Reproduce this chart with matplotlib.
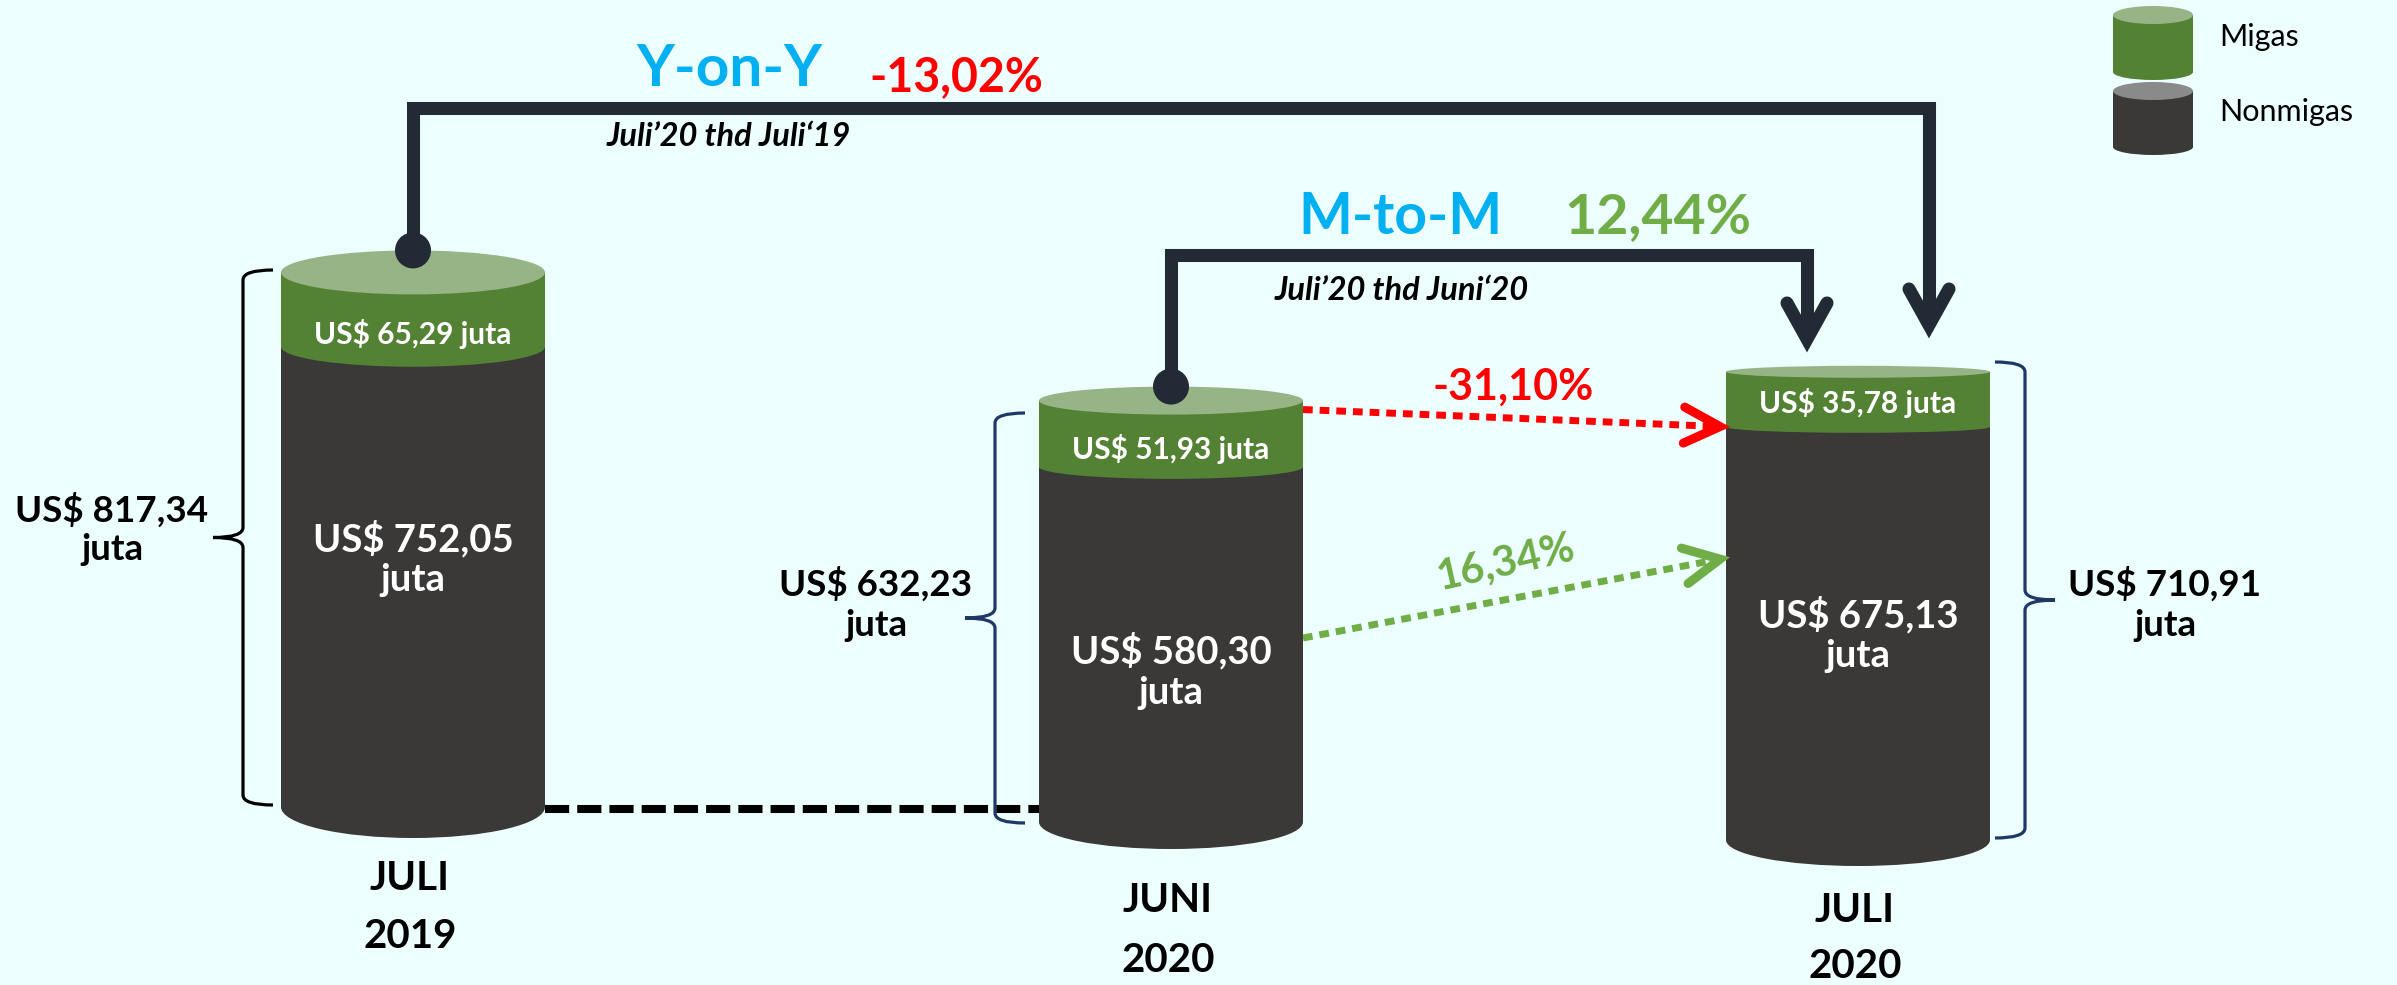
import numpy as np
import matplotlib.pyplot as plt
from matplotlib.patches import Ellipse, Rectangle, Circle, PathPatch
from matplotlib.path import Path

plt.rcParams['font.family'] = ['Lato', 'DejaVu Sans']

# ---------------------------------------------------------------------------
# data (US$ juta)
# ---------------------------------------------------------------------------
months = ['JULI', 'JUNI', 'JULI']
years = ['2019', '2020', '2020']
migas = [65.29, 51.93, 35.78]
nonmigas = [752.05, 580.30, 675.13]
totals = [817.34, 632.23, 710.91]
yoy_pct = -13.02
mtm_pct = 12.44
migas_pct = -31.10
nonmigas_pct = 16.34

# ---------------------------------------------------------------------------
# layout (pixel canvas)
# ---------------------------------------------------------------------------
W, H = 2397, 985
centers = [413, 1171, 1858]
bases = [807, 822, 840]
half_w = 132
ry_top = [22, 14, 6]
ry_mid = [20, 12, 6]
ry_bot = [31, 27, 26]
px_per_juta = 0.612      # nonmigas scale
migas_k = 9.2            # migas band drawn on sqrt scale so it stays readable

BG = '#ecfefe'
DARK = '#3a3937'
GREEN = '#548235'
GREEN_TOP = '#97b487'
GRAY_TOP = '#8a8a8a'
LINE = '#222a35'
NAVY = '#1f3864'
CYAN = '#00b0f0'
RED = '#ff0000'
LGREEN = '#70ad47'


def fmt(v):
    return f'{v:.2f}'.replace('.', ',')


def segment(ax, cx, rx, y_bottom, y_top, ry_b, color, z=3):
    ax.add_patch(Rectangle((cx - rx, y_top), 2 * rx, y_bottom - y_top,
                           facecolor=color, lw=0, zorder=z))
    ax.add_patch(Ellipse((cx, y_bottom), 2 * rx, 2 * ry_b,
                         facecolor=color, lw=0, zorder=z))


def brace(ax, xv, y0, y1, s, color, hook=30, tip=30, r=10):
    # s = -1 : tip points left, s = +1 : tip points right
    xh = xv - s * hook
    xt = xv + s * tip
    ym = (y0 + y1) / 2
    verts = [(xh, y0), (xv, y0), (xv, y0 + r),
             (xv, ym - r), (xv, ym), (xt, ym),
             (xv, ym), (xv, ym + r),
             (xv, y1 - r), (xv, y1), (xh, y1)]
    codes = [Path.MOVETO, Path.CURVE3, Path.CURVE3,
             Path.LINETO, Path.CURVE3, Path.CURVE3,
             Path.CURVE3, Path.CURVE3,
             Path.LINETO, Path.CURVE3, Path.CURVE3]
    ax.add_patch(PathPatch(Path(verts, codes), facecolor='none',
                           edgecolor=color, lw=2.3, zorder=4))


def chevron(ax, tip, direction, back, spread, color, lw, z=6):
    d = np.array(direction, float)
    d /= np.hypot(*d)
    n = np.array([-d[1], d[0]])
    t = np.array(tip, float)
    a = t - back * d + spread * n
    b = t - back * d - spread * n
    ax.plot([a[0], t[0], b[0]], [a[1], t[1], b[1]], color=color, lw=lw,
            solid_joinstyle='miter', solid_capstyle='round', zorder=z)


fig = plt.figure(figsize=(W / 100, H / 100), dpi=100)
fig.patch.set_facecolor(BG)
ax = fig.add_axes([0, 0, 1, 1])
ax.set_xlim(0, W)
ax.set_ylim(H, 0)
ax.axis('off')

# ---------------------------------------------------------------------------
# cylinders
# ---------------------------------------------------------------------------
tops = []
mids = []
for i, cx in enumerate(centers):
    y_mid = bases[i] - nonmigas[i] * px_per_juta
    y_top = y_mid - migas_k * np.sqrt(migas[i])
    mids.append(y_mid)
    tops.append(y_top)
    segment(ax, cx, half_w, bases[i], y_mid, ry_bot[i], DARK)
    segment(ax, cx, half_w, y_mid, y_top, ry_mid[i], GREEN)
    ax.add_patch(Ellipse((cx, y_top), 2 * half_w, 2 * ry_top[i],
                         facecolor=GREEN_TOP, lw=0, zorder=3))

# labels inside the cylinders
migas_label_y = [334, 449, 403]
nonmigas_label_y = [(539, 580), (651, 693), (615, 656)]
for i, cx in enumerate(centers):
    ax.text(cx, migas_label_y[i], f'US$ {fmt(migas[i])} juta', color='white',
            fontsize=21.5, fontweight='bold', ha='center', va='center', zorder=7)
    y1, y2 = nonmigas_label_y[i]
    ax.text(cx, y1, f'US$ {fmt(nonmigas[i])}', color='white', fontsize=27.5,
            fontweight='bold', ha='center', va='center', zorder=7)
    ax.text(cx, y2, 'juta', color='white', fontsize=27.5,
            fontweight='bold', ha='center', va='center', zorder=7)

# period labels below
period_y = [(878, 937), (900, 961), (911, 967)]
for i, cx in enumerate(centers):
    ax.text(cx - 3, period_y[i][0], months[i], fontsize=29, fontweight='bold',
            ha='center', va='center', color='black')
    ax.text(cx - 3, period_y[i][1], years[i], fontsize=29, fontweight='bold',
            ha='center', va='center', color='black')

# ---------------------------------------------------------------------------
# braces + totals
# ---------------------------------------------------------------------------
brace_x = [243, 995, 2025]
brace_side = [-1, -1, 1]
brace_top = [270, 413, 362]
brace_bot = [805, 823, 838]
brace_col = ['black', NAVY, NAVY]
total_x = [112, 876, 2165]
total_y = [(510, 549), (584, 626), (584, 625)]
for i in range(3):
    brace(ax, brace_x[i], brace_top[i], brace_bot[i], brace_side[i], brace_col[i])
    ax.text(total_x[i], total_y[i][0], f'US$ {fmt(totals[i])}', fontsize=26.5,
            fontweight='bold', ha='center', va='center', color='black')
    ax.text(total_x[i], total_y[i][1], 'juta', fontsize=26.5,
            fontweight='bold', ha='center', va='center', color='black')

# dashed baseline between 2019 and June 2020
ax.plot([centers[0] + half_w, centers[1] - half_w], [809, 809], color='black',
        lw=5.8, dashes=(3, 1), dash_capstyle='butt', zorder=2)

# ---------------------------------------------------------------------------
# Y-on-Y and M-to-M connectors
# ---------------------------------------------------------------------------
def connector(x0, y0, y_bar, x1, y_tip):
    ax.plot([x0, x0, x1, x1], [y0, y_bar, y_bar, y_tip - 14], color=LINE,
            lw=9.4, solid_joinstyle='miter', solid_capstyle='butt', zorder=5)
    chevron(ax, (x1, y_tip - 13), (0, 1), 36, 20, LINE, 9.4)
    ax.add_patch(Circle((x0, y0), 18, facecolor=LINE, lw=0, zorder=6))


connector(centers[0], tops[0] - 22, 108, 1929, 338)
connector(centers[1], tops[1] - 14, 255, 1807, 352)

ax.text(729, 70, 'Y-on-Y', color=CYAN, fontsize=42, fontweight='bold',
        ha='center', va='center')
ax.text(956, 77, fmt(yoy_pct) + '%', color=RED, fontsize=33.5,
        fontweight='bold', ha='center', va='center')
ax.text(729, 137, 'Juli\u201920 thd Juli\u201819', fontsize=23.5,
        fontweight='bold', style='italic', ha='center', va='center')

ax.text(1400, 217, 'M-to-M', color=CYAN, fontsize=41, fontweight='bold',
        ha='center', va='center')
ax.text(1658, 217, fmt(mtm_pct) + '%', color=LGREEN, fontsize=40,
        fontweight='bold', ha='center', va='center')
ax.text(1402, 291, 'Juli\u201920 thd Juni\u201820', fontsize=23.5,
        fontweight='bold', style='italic', ha='center', va='center')

# ---------------------------------------------------------------------------
# component change arrows
# ---------------------------------------------------------------------------
x_start = centers[1] + half_w
x_end = centers[2] - half_w
red_start = (x_start, tops[1] + 9)
red_end = (x_end, mids[2])
green_start = (x_start, 638)
green_end = (x_end, 558)
for (p0, p1, col) in [(red_start, red_end, RED), (green_start, green_end, LGREEN)]:
    d = np.array(p1, float) - np.array(p0, float)
    u = d / np.hypot(*d)
    stop = np.array(p1) - 10 * u
    ax.plot([p0[0], stop[0]], [p0[1], stop[1]], color=col, lw=5,
            dashes=(1.4, 1.0), dash_capstyle='butt', zorder=2)
    chevron(ax, (p1[0] - 6 * u[0], p1[1] - 6 * u[1]), d, 36, 18, col, 6.5, z=6)

ax.text(1513, 387, fmt(migas_pct) + '%', color=RED, fontsize=31,
        fontweight='bold', ha='center', va='center')
ang = np.degrees(np.arctan2(green_start[1] - green_end[1], green_end[0] - green_start[0]))
ax.text(1506, 563, fmt(nonmigas_pct) + '%', color=LGREEN, fontsize=30,
        fontweight='bold', ha='center', va='center', rotation=ang + 2)

# ---------------------------------------------------------------------------
# legend
# ---------------------------------------------------------------------------
lx, lrx = 2153, 40
segment(ax, lx, lrx, 72, 15, 8, GREEN)
ax.add_patch(Ellipse((lx, 15), 2 * lrx, 18, facecolor=GREEN_TOP, lw=0, zorder=3))
segment(ax, lx, lrx, 147, 91, 8, DARK)
ax.add_patch(Ellipse((lx, 91), 2 * lrx, 18, facecolor=GRAY_TOP, lw=0, zorder=3))
ax.text(2219, 37, 'Migas', fontsize=22, ha='left', va='center', color='black')
ax.text(2219, 112, 'Nonmigas', fontsize=22, ha='left', va='center', color='black')

fig.savefig('out.png', dpi=100, facecolor=BG)
